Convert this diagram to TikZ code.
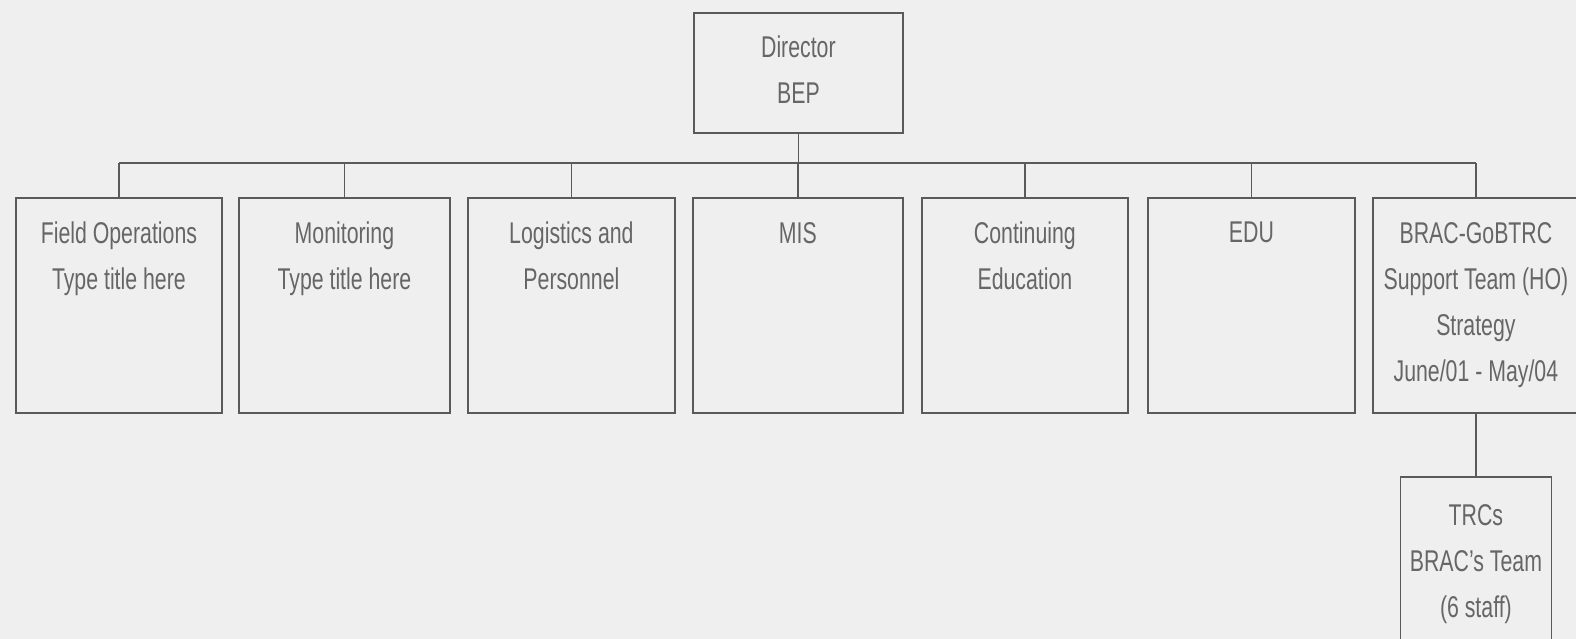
\documentclass[tikz,border=0pt]{standalone}
\usepackage{fontspec}
\setmainfont{Liberation Sans}[FakeStretch=0.71]
\definecolor{bg}{HTML}{EFEFEF}
\definecolor{ln}{HTML}{5A5A5A}
\definecolor{tx}{HTML}{666666}
\begin{document}
\begin{tikzpicture}[x=1pt,y=-1pt,
  box/.style={draw=ln, line width=1.8pt, fill=bg, inner sep=0pt, anchor=north west},
  txt/.style={text=tx, inner sep=0pt, anchor=north, align=center, font=\fontsize{30}{46}\selectfont},
  conn/.style={draw=ln, line width=1.6pt}]
\clip (0,0) rectangle (1576,639);
\fill[bg] (0,0) rectangle (1576,639);
\coordinate (bus) at (0,163);
% director
\node[box, minimum width=209pt, minimum height=120pt] (dir) at (693,12) {};
\node[txt] (tdir) at ([yshift=-24pt]dir.north) {Director\\BEP};
% second level boxes
\node[box, minimum width=206pt, minimum height=215pt] (b1) at (15,197) {};
\node[box, minimum width=211pt, minimum height=215pt] (b2) at (238,197) {};
\node[box, minimum width=207pt, minimum height=215pt] (b3) at (467,197) {};
\node[box, minimum width=210pt, minimum height=215pt] (b4) at (692,197) {};
\node[box, minimum width=206pt, minimum height=215pt] (b5) at (921,197) {};
\node[box, minimum width=207pt, minimum height=215pt] (b6) at (1147,197) {};
\node[box, minimum width=206pt, minimum height=215pt] (b7) at (1372,197) {};
\node[txt] (t1) at ([yshift=-25pt]b1.north) {Field Operations\\Type title here};
\node[txt] (t2) at ([yshift=-25pt]b2.north) {Monitoring\\Type title here};
\node[txt] (t3) at ([yshift=-25pt]b3.north) {Logistics and\\Personnel};
\node[txt] (t4) at ([yshift=-25pt]b4.north) {MIS};
\node[txt] (t5) at ([yshift=-25pt]b5.north) {Continuing\\Education};
\node[txt] (t6) at ([yshift=-25pt]b6.north) {EDU};
\node[txt] (t7) at ([yshift=-25pt]b7.north) {BRAC-GoBTRC\\Support Team (HO)\\Strategy\\June/01 - May/04};
% third level
\node[box, minimum width=151pt, minimum height=200pt] (trc) at (1399.5,476) {};
\node[txt] (ttrc) at ([yshift=-28pt]trc.north) {TRCs\\BRAC's Team\\(6 staff)};
% connectors
\draw[conn] (dir.south) -- (dir.south |- bus);
\draw[conn] (b1.north |- bus) -- (b7.north |- bus);
\foreach \b in {b1,b2,b3,b4,b5,b6,b7}{
  \draw[conn] (\b.north) -- (\b.north |- bus);
}
\draw[conn] (b7.south) -- (trc.north);
\end{tikzpicture}
\end{document}
